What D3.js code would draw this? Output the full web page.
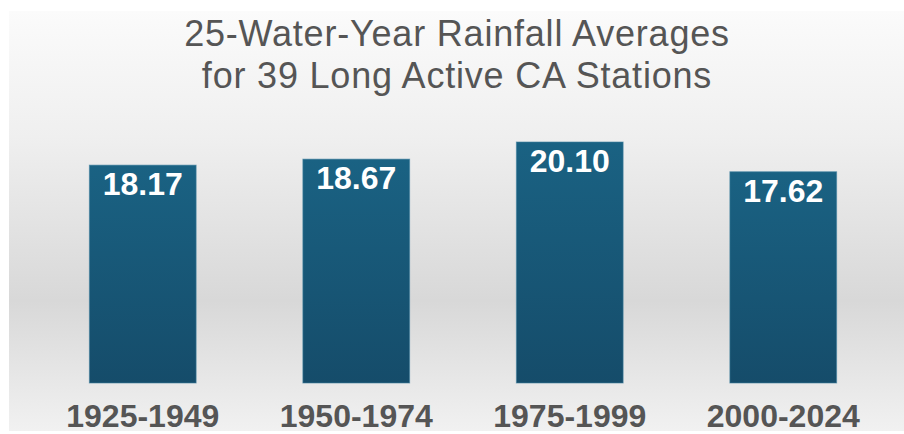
<!DOCTYPE html>
<html lang="en">
<head>
    <meta charset="utf-8">
    <title>Rainfall averages</title>
    <script src="https://cdn.jsdelivr.net/npm/d3@7/dist/d3.min.js"></script>
    <style type="text/css">
        body { margin: 0; background: #fff; }
        .title { font-family: "Liberation Sans", Arial, sans-serif; font-size: 36px; fill: #555; letter-spacing: 0.8px; }
        .val { font-family: "Liberation Sans", Arial, sans-serif; font-size: 32px; font-weight: bold; fill: #fff; }
        .cat { font-family: "Liberation Sans", Arial, sans-serif; font-size: 32px; font-weight: bold; fill: #555; }
    </style>
</head>
<body>
    <div id="chart"></div>
    <script>
        // data
        var periods = ["1925-1949", "1950-1974", "1975-1999", "2000-2024"];
        var averages = [18.17, 18.67, 20.10, 17.62];
        var titleLines = ["25-Water-Year Rainfall Averages", "for 39 Long Active CA Stations"];

        var width = 904, height = 434;

        var svg = d3.select("#chart")
            .append("svg")
            .attr("width", width)
            .attr("height", height);

        var defs = svg.append("defs");

        var bg = defs.append("linearGradient")
            .attr("id", "bg").attr("x1", 0).attr("y1", 0).attr("x2", 0).attr("y2", 1);
        bg.append("stop").attr("offset", "0%").attr("stop-color", "#fbfbfb");
        bg.append("stop").attr("offset", "30%").attr("stop-color", "#efefef");
        bg.append("stop").attr("offset", "69%").attr("stop-color", "#d8d8d8");
        bg.append("stop").attr("offset", "100%").attr("stop-color", "#f1f1f1");

        var barGrad = defs.append("linearGradient")
            .attr("id", "barGrad").attr("x1", 0).attr("y1", 0).attr("x2", 0).attr("y2", 1);
        barGrad.append("stop").attr("offset", "0%").attr("stop-color", "#1a6283");
        barGrad.append("stop").attr("offset", "100%").attr("stop-color", "#154c6a");

        // panel
        svg.append("rect")
            .attr("x", 9).attr("y", 11)
            .attr("width", width - 9).attr("height", 420)
            .attr("fill", "url(#bg)");

        svg.selectAll(".title")
            .data(titleLines)
            .enter()
            .append("text")
            .attr("class", "title")
            .attr("x", 457)
            .attr("y", function (d, i) { return 46 + i * 42; })
            .attr("text-anchor", "middle")
            .text(function (d) { return d; });

        var x = d3.scaleBand()
            .domain(periods)
            .range([36, 890])
            .paddingInner(0.5)
            .paddingOuter(0.25);

        var y = d3.scaleLinear()
            .domain([0, 20.10])
            .range([383, 142]);

        var bars = svg.selectAll(".bar")
            .data(averages)
            .enter()
            .append("g");

        bars.append("rect")
            .attr("x", function (d, i) { return x(periods[i]); })
            .attr("y", function (d) { return y(d); })
            .attr("width", x.bandwidth())
            .attr("height", function (d) { return y(0) - y(d); })
            .attr("fill", "url(#barGrad)")
            .attr("stroke", "#3f819e")
            .attr("stroke-opacity", 0.6)
            .attr("stroke-width", 1);

        bars.append("text")
            .attr("class", "val")
            .attr("x", function (d, i) { return x(periods[i]) + x.bandwidth() / 2; })
            .attr("y", function (d) { return y(d) + 30; })
            .attr("text-anchor", "middle")
            .text(function (d) { return d.toFixed(2); });

        svg.selectAll(".cat")
            .data(periods)
            .enter()
            .append("text")
            .attr("class", "cat")
            .attr("x", function (d) { return x(d) + x.bandwidth() / 2; })
            .attr("y", 427)
            .attr("text-anchor", "middle")
            .text(function (d) { return d; });
    </script>
</body>
</html>
